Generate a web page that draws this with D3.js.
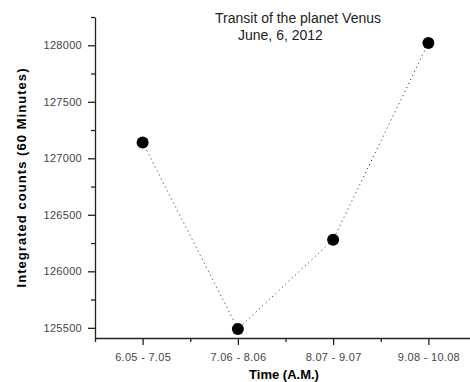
<!DOCTYPE html>
<html>
<head>
<meta charset="utf-8">
<script src="https://cdn.jsdelivr.net/npm/d3@7"></script>
<style>
  body { margin: 0; background: #fff; }
  svg { display: block; font-family: Arial, "Liberation Sans", sans-serif; }
  .tick text { fill: #444; font-size: 11px; letter-spacing: 0.3px; }
  .domain, .tick line { stroke: #222; stroke-width: 1.3; }
</style>
</head>
<body>
<svg id="chart" width="470" height="382"></svg>
<script>
  var categories = ["6.05 - 7.05", "7.06 - 8.06", "8.07 - 9.07", "9.08 - 10.08"];
  var counts = [127140, 125490, 126280, 128020];
  var yMajorTicks = [125500, 126000, 126500, 127000, 127500, 128000];
  var yMinorTicks = [125750, 126250, 126750, 127250, 127750, 128250];
  var xMinorTicks = [0.5, 1.5, 2.5, 3.5];
  var titleLines = ["Transit of the planet Venus", "June, 6, 2012"];

  var svg = d3.select("#chart");
  var axLeft = 95, axBottom = 338, axTop = 17;

  var x = d3.scaleLinear().domain([0.5, 4.5]).range([axLeft, 476]);
  var y = d3.scaleLinear().domain([125410, 128250]).range([axBottom, axTop]);

  var data = categories.map(function(c, i) {
    return { cat: c, pos: i + 1, value: counts[i] };
  });

  // x axis, major ticks with category labels
  svg.append("g")
    .attr("transform", "translate(0," + axBottom + ")")
    .call(d3.axisBottom(x)
      .tickValues(data.map(function(d) { return d.pos; }))
      .tickFormat(function(d) { return categories[d - 1]; })
      .tickSize(7).tickSizeOuter(0).tickPadding(8));

  // x minor ticks
  svg.append("g")
    .attr("transform", "translate(0," + axBottom + ")")
    .call(d3.axisBottom(x).tickValues(xMinorTicks).tickFormat("").tickSize(4).tickSizeOuter(0))
    .select(".domain").remove();

  // y axis
  svg.append("g")
    .attr("transform", "translate(" + axLeft + ",0)")
    .call(d3.axisLeft(y).tickValues(yMajorTicks).tickFormat(d3.format("d"))
      .tickSize(7).tickSizeOuter(0).tickPadding(6));

  svg.append("g")
    .attr("transform", "translate(" + axLeft + ",0)")
    .call(d3.axisLeft(y).tickValues(yMinorTicks).tickFormat("").tickSize(4).tickSizeOuter(0))
    .select(".domain").remove();

  // dotted connecting line
  var line = d3.line()
    .x(function(d) { return x(d.pos); })
    .y(function(d) { return y(d.value); });

  svg.append("path")
    .datum(data)
    .attr("fill", "none")
    .attr("stroke", "#222")
    .attr("stroke-width", 1)
    .attr("stroke-dasharray", "1,3.5")
    .attr("d", line);

  svg.selectAll(".pt")
    .data(data)
    .enter().append("circle")
    .attr("class", "pt")
    .attr("cx", function(d) { return x(d.pos); })
    .attr("cy", function(d) { return y(d.value); })
    .attr("r", 6)
    .attr("fill", "#000");

  // title
  svg.append("text")
    .attr("x", 215).attr("y", 23)
    .style("font-size", "14px").attr("fill", "#222")
    .text(titleLines[0]);
  svg.append("text")
    .attr("x", 238).attr("y", 40)
    .style("font-size", "14px").attr("fill", "#222")
    .text(titleLines[1]);

  // axis titles
  svg.append("text")
    .attr("x", 284).attr("y", 379)
    .attr("text-anchor", "middle")
    .style("font-size", "13px").style("font-weight", "bold")
    .text("Time (A.M.)");

  svg.append("text")
    .attr("transform", "translate(26,178) rotate(-90)")
    .attr("text-anchor", "middle")
    .attr("textLength", 219)
    .style("font-size", "13px").style("font-weight", "bold")
    .text("Integrated  counts (60  Minutes)");
</script>
</body>
</html>
